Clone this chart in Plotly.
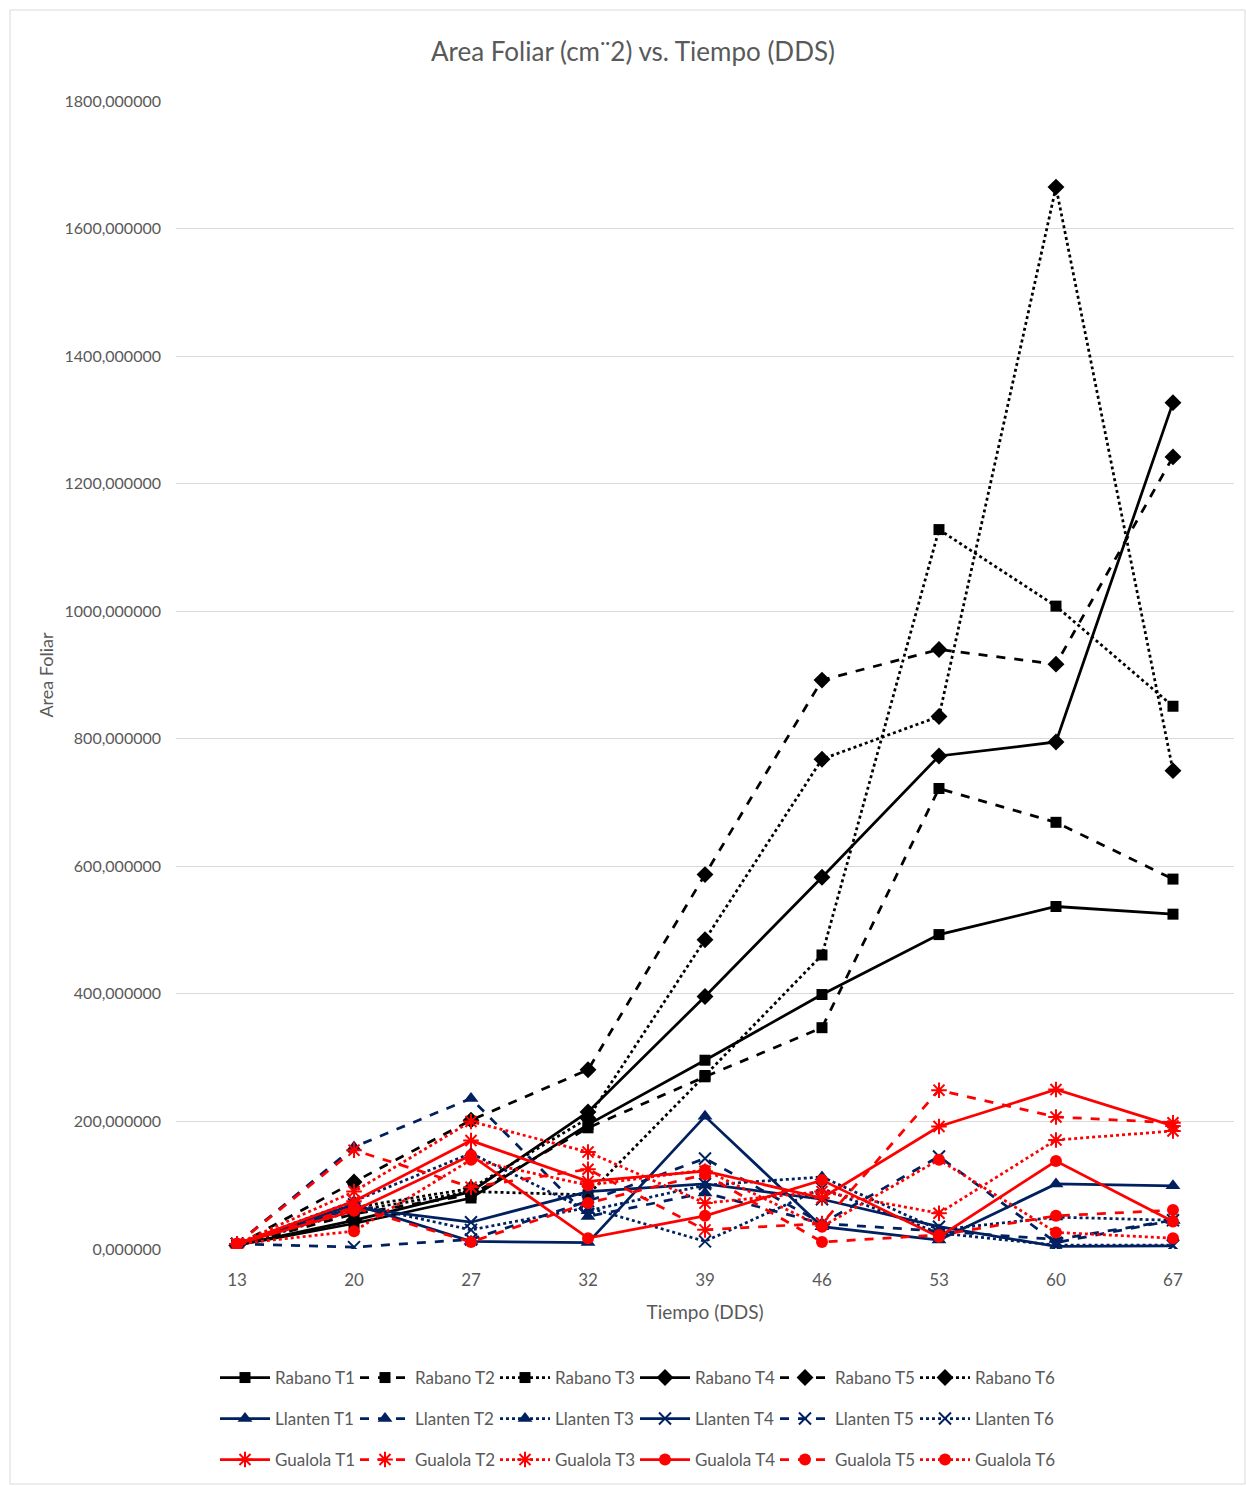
import plotly.graph_objects as go

# ---------------- data ----------------
dds = ["13", "20", "27", "32", "39", "46", "53", "60", "67"]

rabano_t1 = [6, 40, 80, 195, 296, 399, 493, 537, 525]
rabano_t2 = [6, 55, 85, 190, 270, 347, 722, 669, 580]
rabano_t3 = [6, 60, 90, 85, 272, 461, 1128, 1008, 851]
rabano_t4 = [6, 45, 90, 215, 396, 583, 773, 795, 1327]
rabano_t5 = [6, 105, 202, 281, 587, 892, 940, 917, 1242]
rabano_t6 = [6, 65, 95, 205, 485, 768, 835, 1665, 750]

llanten_t1 = [8, 70, 12, 10, 208, 35, 14, 102, 99]
llanten_t2 = [8, 160, 236, 51, 88, 40, 28, 15, 45]
llanten_t3 = [8, 75, 150, 60, 100, 113, 30, 50, 45]
llanten_t4 = [8, 65, 42, 90, 102, 78, 35, 4, 5]
llanten_t5 = [8, 3, 15, 75, 142, 40, 145, 10, 45]
llanten_t6 = [8, 70, 30, 65, 12, 95, 25, 6, 6]

gualola_t1 = [8, 75, 170, 106, 122, 80, 192, 250, 193]
gualola_t2 = [8, 155, 97, 125, 30, 40, 249, 207, 198]
gualola_t3 = [8, 90, 200, 152, 72, 90, 56, 171, 185]
gualola_t4 = [8, 60, 147, 17, 52, 108, 19, 138, 43]
gualola_t5 = [8, 65, 11, 72, 117, 11, 22, 52, 61]
gualola_t6 = [8, 28, 140, 100, 124, 35, 140, 26, 17]

y_tick_values = [0, 200, 400, 600, 800, 1000, 1200, 1400, 1600, 1800]
y_tick_labels = ["0,000000", "200,000000", "400,000000", "600,000000", "800,000000",
                 "1000,000000", "1200,000000", "1400,000000", "1600,000000", "1800,000000"]

title_text = "Area Foliar (cm¨2) vs. Tiempo (DDS)"
x_title = "Tiempo (DDS)"
y_title = "Area Foliar"

# ---------------- styles ----------------
BLACK = "#000000"
NAVY = "#002060"
RED = "#FF0000"
GREY_TXT = "#595959"
FONT = "Lato, Open Sans, sans-serif"

W, H = 1246, 1486
PL, PR, PT, PB = 176, 1234, 101, 1249  # plot area in px


def px_x(px):
    return (px - PL) / (PR - PL)


def px_y(py):
    return (PB - py) / (PB - PT)


series = [
    ("Rabano T1", rabano_t1, BLACK, "solid", "square", 11, "legend"),
    ("Rabano T2", rabano_t2, BLACK, "dash", "square", 11, "legend"),
    ("Rabano T3", rabano_t3, BLACK, "dot", "square", 11, "legend"),
    ("Rabano T4", rabano_t4, BLACK, "solid", "diamond", 13, "legend"),
    ("Rabano T5", rabano_t5, BLACK, "dash", "diamond", 13, "legend"),
    ("Rabano T6", rabano_t6, BLACK, "dot", "diamond", 13, "legend"),
    ("Llanten T1", llanten_t1, NAVY, "solid", "triangle-up", 13, "legend2"),
    ("Llanten T2", llanten_t2, NAVY, "dash", "triangle-up", 13, "legend2"),
    ("Llanten T3", llanten_t3, NAVY, "dot", "triangle-up", 13, "legend2"),
    ("Llanten T4", llanten_t4, NAVY, "solid", "x-thin-open", 12, "legend2"),
    ("Llanten T5", llanten_t5, NAVY, "dash", "x-thin-open", 12, "legend2"),
    ("Llanten T6", llanten_t6, NAVY, "dot", "x-thin-open", 12, "legend2"),
    ("Gualola T1", gualola_t1, RED, "solid", "asterisk-open", 13, "legend3"),
    ("Gualola T2", gualola_t2, RED, "dash", "asterisk-open", 13, "legend3"),
    ("Gualola T3", gualola_t3, RED, "dot", "asterisk-open", 13, "legend3"),
    ("Gualola T4", gualola_t4, RED, "solid", "circle", 12, "legend3"),
    ("Gualola T5", gualola_t5, RED, "dash", "circle", 12, "legend3"),
    ("Gualola T6", gualola_t6, RED, "dot", "circle", 12, "legend3"),
]

fig = go.Figure()
for name, vals, color, dash, symbol, size, leg in series:
    fig.add_trace(go.Scatter(
        x=dds, y=vals, name=name, mode="lines+markers",
        line=dict(color=color, width=2.75, dash=dash),
        marker=dict(symbol=symbol, size=size, color=color,
                    line=dict(color=color, width=2 if "open" in symbol else 0)),
        legend=leg,
    ))

leg_common = dict(orientation="h", xanchor="left", yanchor="middle",
                  font=dict(family=FONT, size=17, color=GREY_TXT),
                  itemwidth=50, entrywidth=75, entrywidthmode="pixels",
                  bgcolor="rgba(0,0,0,0)", tracegroupgap=0, itemclick=False)

fig.update_layout(
    width=W, height=H,
    margin=dict(l=PL, r=W - PR, t=PT, b=H - PB, autoexpand=False),
    paper_bgcolor="white", plot_bgcolor="white",
    title=dict(text=title_text, x=633 / W, xanchor="center", xref="container",
               y=1 - 52 / H, yanchor="middle",
               font=dict(family=FONT, size=26, color=GREY_TXT)),
    xaxis=dict(type="category", categoryorder="array", categoryarray=dds,
               showgrid=False, zeroline=False, showline=False, ticks="",
               ticklabelstandoff=19, automargin=False,
               tickfont=dict(family=FONT, size=17, color=GREY_TXT),
               title=dict(text=x_title, font=dict(family=FONT, size=19, color=GREY_TXT),
                          standoff=16)),
    yaxis=dict(range=[0, 1800], tickvals=y_tick_values, ticktext=y_tick_labels,
               showgrid=True, gridcolor="#D9D9D9", gridwidth=1, automargin=False,
               zeroline=False, showline=False, ticks="", ticklabelstandoff=14,
               tickfont=dict(family=FONT, size=16, color=GREY_TXT),
               title=dict(text=y_title, font=dict(family=FONT, size=18, color=GREY_TXT),
                          standoff=6)),
    legend=dict(x=px_x(215), y=px_y(1378), **leg_common),
    legend2=dict(x=px_x(215), y=px_y(1419), **leg_common),
    legend3=dict(x=px_x(215), y=px_y(1460), **leg_common),
    shapes=[dict(type="rect", xref="paper", yref="paper",
                 x0=px_x(10), x1=px_x(1245), y0=px_y(1484), y1=px_y(10),
                 line=dict(color="#D9D9D9", width=1), fillcolor="rgba(0,0,0,0)",
                 layer="below")],
)

fig.write_html("out.html")
